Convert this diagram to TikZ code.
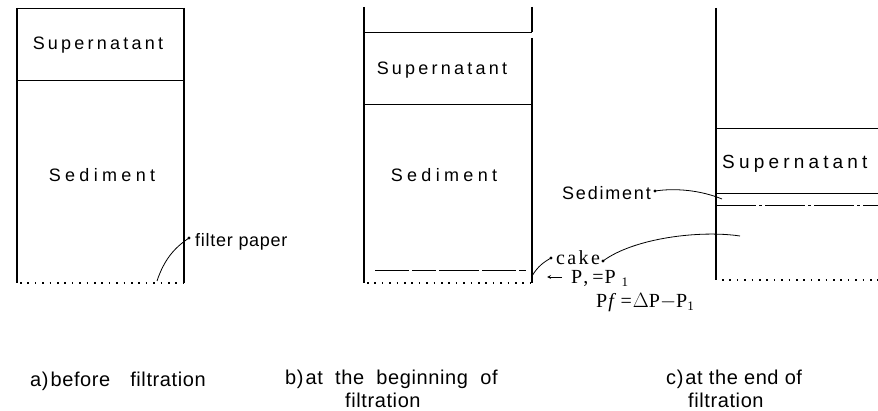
\documentclass[tikz,border=0pt]{standalone}
\usepackage{fontspec}
\setmainfont{Liberation Sans}
\newfontfamily\serifp{Liberation Serif}
\begin{document}
\begin{tikzpicture}[x=1pt,y=-1pt,
  wall/.style={line width=1.1pt},
  lvl/.style={line width=0.9pt},
  dotl/.style={line width=1.6pt,dash pattern=on 1.6pt off 5.8pt},
  lab/.style={font=\fontsize{18}{18}\selectfont\addfontfeature{LetterSpace=18}, inner sep=0pt},
  sedlab/.style={font=\fontsize{18}{18}\selectfont\addfontfeature{LetterSpace=24}, inner sep=0pt},
  captxt/.style={font=\fontsize{20}{23}\selectfont\addfontfeature{LetterSpace=3}, inner sep=0pt, align=left},
  eq/.style={font=\serifp\fontsize{20}{20}\selectfont\addfontfeature{LetterSpace=12}, inner sep=0pt, anchor=base west},
  lead/.style={line width=0.8pt},
  dotend/.style={fill, circle, inner sep=1.1pt}]
\useasboundingbox (0,0) rectangle (878,411);
% ---------- a ----------
\coordinate (aTL) at (17,8);
\coordinate (aTR) at (184,8);
\coordinate (aBL) at (17,283);
\coordinate (aBR) at (184,283);
\draw[wall] (aTL) -- (aBL);
\draw[wall] (aTR) -- (aBR);
\draw[lvl] (aTL) -- (aTR);
\draw[lvl] (17,80) -- (184,80);
\draw[dotl] (20,283) -- (184,283);
\node[lab] (asup) at (98,45) {Supernatant};
\node[sedlab] (ased) at (102,175) {Sediment};
\node[lab, anchor=west, font=\fontsize{18}{18}\selectfont\addfontfeature{LetterSpace=4}] (afp) at (195,242) {filter paper};
\node[dotend] (afpd) at (189,238) {};
\draw[lead] (157,281) .. controls (164,260) and (174,248) .. (afpd.center);
% ---------- b ----------
\draw[wall] (364,7) -- (364,283);
\draw[wall] (532,7) -- (532,32);
\draw[wall] (532,38) -- (532,283);
\draw[lvl] (364,32) -- (532,32);
\draw[lvl] (364,104) -- (532,104);
\draw[lvl, dash pattern=on 34pt off 3pt on 24pt off 3pt on 40pt off 3pt] (375,270) -- (526,270);
\draw[dotl] (367,283) -- (532,283);
\node[lab] (bsup) at (442,70) {Supernatant};
\node[sedlab] (bsed) at (444,175) {Sediment};
\node[dotend] (bcaked) at (551,258) {};
\draw[lead] (532,276) .. controls (538,266) and (544,262) .. (bcaked.center);
\node[eq] (cake) at (556,265) {cake};
\draw[lead, ->, >=stealth] (562,277) -- (547,277);
\node[eq] (eq1) at (571,284) {P\kern1pt,\kern4pt=\kern1ptP\raisebox{-3pt}{\fontsize{13}{13}\selectfont\kern6pt 1}};
\node[eq] (eq2) at (596,308) {P\kern1pt\textit{f}\kern2pt=\kern1pt$\Delta$P$-$P\raisebox{-3pt}{\fontsize{13}{13}\selectfont 1}};
% ---------- c ----------
\draw[wall] (716,8) -- (716,280);
\draw[lvl] (716,128) -- (878,128);
\draw[lvl] (716,193) -- (878,193);
\draw[lvl, dash pattern=on 40pt off 3pt on 3pt off 3pt on 40pt off 3pt on 3pt off 3pt] (716,205) -- (878,205);
\draw[dotl] (722,280) -- (878,280);
\node[lab, anchor=west, font=\fontsize{19}{19}\selectfont\addfontfeature{LetterSpace=22}] (csup) at (722,164) {Supernatant};
\node[sedlab, anchor=east, font=\fontsize{18}{18}\selectfont\addfontfeature{LetterSpace=10}] (csed) at (651,193) {Sediment};
\node[dotend] (csedd) at (655,191) {};
\draw[lead] (csedd.center) .. controls (675,188) and (700,190) .. (722,199);
\node[dotend] (ccaked) at (603,261) {};
\draw[lead] (740,236) .. controls (700,230) and (634,238) .. (ccaked.center);
% ---------- captions ----------
\node[captxt, anchor=west] (capa) at (30,381) {a)\kern2pt before\quad filtration};
\node[captxt, anchor=north west] (capb) at (285,370) {b)\kern2pt at\ \ the\ \ beginning\ \ of\\\hspace*{60pt}filtration};
\node[captxt, anchor=north west] (capc) at (666,370) {c)\kern2pt at\ the\ end\ of\\\hspace*{22pt}filtration};
\end{tikzpicture}
\end{document}
